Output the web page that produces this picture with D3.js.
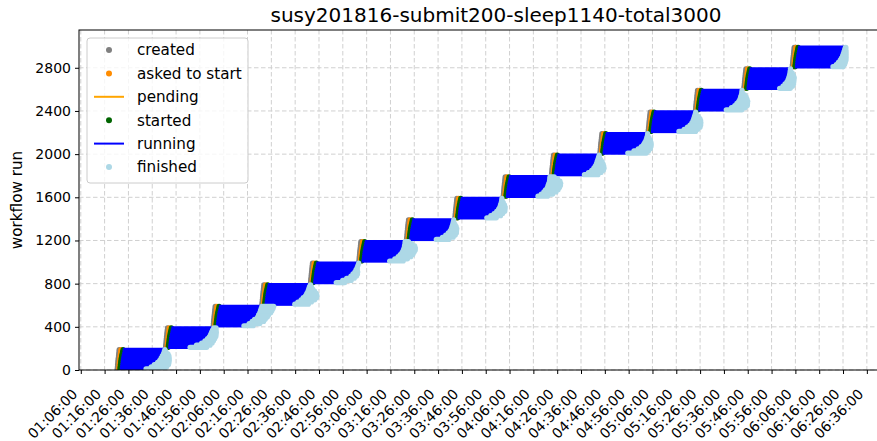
<!DOCTYPE html>
<html>
<head>
<meta charset="utf-8">
<script src="https://cdn.jsdelivr.net/npm/d3@7"></script>
<style>
  body { margin: 0; background: #fff; }
  svg { display: block; font-family: "DejaVu Sans", sans-serif; }
</style>
</head>
<body>
<svg id="chart" width="877" height="441"></svg>
<script>
// one batch = 200 workflow runs, created every ~20 minutes
const batchCreated = [
  "01:21:17", "01:41:34", "02:01:35", "02:22:02", "02:42:26",
  "03:02:45", "03:22:44", "03:43:03", "04:03:20", "04:23:37",
  "04:43:56", "05:04:12", "05:24:04", "05:44:23", "06:04:40"
];
const runsPerBatch = 200;
const binSize = 20; // runs are grouped in bins of 20 inside a batch

// per bin (bin 0 = lowest run number of the batch), seconds
const createdLagSec = [0, 5, 10, 15, 20, 26, 32, 38, 44, 50];
const askedLagSec = [38, 38, 38, 38, 40, 40, 42, 42, 44, 44];
const startedLagSec = [68, 68, 70, 72, 74, 76, 80, 86, 92, 98];

// end of running, minutes after creation, per batch and bin
const runEndMin = [
  [12.1, 14.2, 15.4, 16.7, 17.5, 18.0, 18.4, 18.8, 19.0, 19.2],
  [10.3, 12.9, 15.0, 16.3, 17.3, 18.0, 18.4, 18.7, 19.0, 19.4],
  [12.9, 15.0, 16.2, 17.1, 18.3, 18.6, 19.0, 19.2, 19.4, 19.6],
  [13.8, 15.0, 16.3, 17.1, 18.0, 18.4, 18.8, 19.0, 19.2, 19.5],
  [10.8, 13.4, 15.0, 16.7, 17.5, 18.2, 18.6, 19.0, 19.2, 19.4],
  [12.9, 15.0, 16.3, 17.1, 17.8, 18.2, 18.4, 18.5, 18.6, 18.6],
  [12.5, 15.0, 16.3, 17.3, 18.0, 18.4, 18.6, 18.8, 18.9, 19.0],
  [13.4, 15.0, 16.3, 17.3, 18.0, 18.4, 18.6, 18.8, 18.9, 18.9],
  [14.6, 15.9, 16.9, 17.5, 18.2, 18.4, 18.6, 18.8, 18.8, 18.8],
  [13.8, 15.4, 16.7, 17.5, 18.0, 18.4, 18.6, 18.8, 19.0, 19.2],
  [11.7, 14.2, 15.9, 17.1, 18.0, 18.4, 18.8, 19.0, 19.2, 19.2],
  [12.9, 15.0, 16.3, 17.3, 18.0, 18.4, 18.6, 18.8, 19.0, 19.1],
  [12.9, 15.0, 16.3, 17.1, 17.8, 18.2, 18.4, 18.6, 18.7, 18.7],
  [15.0, 16.3, 17.1, 17.8, 18.2, 18.4, 18.6, 18.7, 18.7, 18.7],
  [17.1, 18.4, 19.2, 19.9, 20.3, 20.7, 20.9, 21.1, 21.3, 21.5]
];
// latest finished marker, minutes after creation, per batch and bin
const finishedMaxMin = [
  [19.9, 20.7, 21.4, 21.5, 21.5, 21.4, 21.2, 20.7, 19.7, 19.1],
  [17.3, 18.6, 19.4, 19.9, 20.3, 20.7, 20.7, 20.7, 20.5, 20.4],
  [16.8, 19.5, 21.0, 21.6, 22.4, 22.8, 23.6, 24.0, 24.4, 24.6],
  [19.5, 20.7, 22.0, 22.7, 22.8, 22.4, 21.6, 20.7, 20.1, 19.6],
  [14.4, 17.0, 18.2, 19.1, 19.4, 19.4, 19.1, 19.0, 19.1, 19.1],
  [18.6, 20.3, 21.6, 22.4, 22.8, 23.2, 23.2, 22.8, 21.4, 20.0],
  [17.8, 19.5, 20.3, 20.7, 20.7, 20.7, 20.3, 19.7, 19.1, 18.9],
  [17.4, 19.1, 19.9, 20.7, 20.7, 20.7, 20.3, 19.7, 19.1, 18.9],
  [18.6, 20.7, 22.0, 22.8, 23.3, 23.6, 23.6, 23.2, 22.1, 20.6],
  [19.5, 20.7, 21.6, 21.8, 21.6, 21.2, 20.7, 20.0, 19.4, 19.2],
  [19.5, 20.3, 21.0, 21.2, 21.2, 21.0, 20.7, 20.0, 19.4, 19.2],
  [19.9, 20.7, 21.6, 21.8, 21.8, 21.6, 21.2, 20.4, 19.4, 19.1],
  [19.5, 20.7, 21.6, 21.6, 21.6, 21.2, 20.7, 20.0, 18.9, 18.7],
  [19.5, 20.3, 20.7, 20.7, 20.7, 20.7, 20.3, 19.7, 18.9, 18.7],
  [21.3, 21.9, 22.1, 22.3, 22.3, 22.2, 22.1, 22.0, 21.8, 21.7]
];

const xTickLabels = [
  "01:06:00", "01:16:00", "01:26:00", "01:36:00", "01:46:00", "01:56:00",
  "02:06:00", "02:16:00", "02:26:00", "02:36:00", "02:46:00", "02:56:00",
  "03:06:00", "03:16:00", "03:26:00", "03:36:00", "03:46:00", "03:56:00",
  "04:06:00", "04:16:00", "04:26:00", "04:36:00", "04:46:00", "04:56:00",
  "05:06:00", "05:16:00", "05:26:00", "05:36:00", "05:46:00", "05:56:00",
  "06:06:00", "06:16:00", "06:26:00", "06:36:00"
];
const yTicks = [0, 400, 800, 1200, 1600, 2000, 2400, 2800];
const xLimits = ["01:05:15", "06:43:12"];
const yLimits = [0, 3150];

const legendItems = [
  { label: "created", type: "dot", color: "gray" },
  { label: "asked to start", type: "dot", color: "darkorange" },
  { label: "pending", type: "line", color: "orange" },
  { label: "started", type: "dot", color: "darkgreen" },
  { label: "running", type: "line", color: "blue" },
  { label: "finished", type: "dot", color: "lightblue" }
];

const parseTime = d3.timeParse("%H:%M:%S");
const addSec = (t, s) => new Date(t.getTime() + s * 1000);

// Build binned rows
const rows = [];
batchCreated.forEach((c, i) => {
  const t0 = parseTime(c);
  createdLagSec.forEach((lag, k) => {
    const created = addSec(t0, lag);
    rows.push({
      run: i * runsPerBatch + k * binSize + binSize / 2,
      created,
      asked: addSec(created, askedLagSec[k]),
      started: addSec(created, startedLagSec[k]),
      runEnd: addSec(created, runEndMin[i][k] * 60),
      finished: addSec(created, Math.max(runEndMin[i][k], finishedMaxMin[i][k]) * 60)
    });
  });
});

const margin = { left: 79, right: 884, top: 30, bottom: 370 };
const tickFont = "14px";
const labelFont = "15.2px";
const svg = d3.select("#chart");

const x = d3.scaleTime()
  .domain(xLimits.map(parseTime))
  .range([margin.left, margin.right]);
const y = d3.scaleLinear()
  .domain(yLimits)
  .range([margin.bottom, margin.top]);

const markerR = 2.6;
const binPx = y(0) - y(binSize);

svg.append("clipPath").attr("id", "plot-clip")
  .append("rect")
  .attr("x", margin.left).attr("y", margin.top)
  .attr("width", margin.right - margin.left)
  .attr("height", margin.bottom - margin.top);

// Grid lines
const grid = svg.append("g").attr("class", "grid")
  .attr("stroke", "#d0d0d0").attr("stroke-width", 1)
  .attr("stroke-dasharray", "4.5,2.5");
grid.selectAll(".vx").data(xTickLabels).enter().append("line")
  .attr("x1", d => x(parseTime(d))).attr("x2", d => x(parseTime(d)))
  .attr("y1", margin.top).attr("y2", margin.bottom);
grid.selectAll(".hy").data(yTicks).enter().append("line")
  .attr("x1", margin.left).attr("x2", margin.right)
  .attr("y1", d => y(d)).attr("y2", d => y(d));

const plot = svg.append("g").attr("clip-path", "url(#plot-clip)");

// created / asked markers
plot.append("g").selectAll("circle").data(rows).enter().append("circle")
  .attr("cx", d => x(d.created)).attr("cy", d => y(d.run))
  .attr("r", markerR).attr("fill", "gray");
plot.append("g").selectAll("circle").data(rows).enter().append("circle")
  .attr("cx", d => x(d.asked)).attr("cy", d => y(d.run))
  .attr("r", markerR).attr("fill", "darkorange");

// pending
plot.append("g").selectAll("line").data(rows).enter().append("line")
  .attr("x1", d => x(d.asked)).attr("x2", d => x(d.started))
  .attr("y1", d => y(d.run)).attr("y2", d => y(d.run))
  .attr("stroke", "orange").attr("stroke-width", binPx + 1);

// started
plot.append("g").selectAll("circle").data(rows).enter().append("circle")
  .attr("cx", d => x(d.started)).attr("cy", d => y(d.run))
  .attr("r", markerR).attr("fill", "darkgreen");

// running
plot.append("g").selectAll("line").data(rows).enter().append("line")
  .attr("x1", d => x(d.started)).attr("x2", d => x(d.runEnd))
  .attr("y1", d => y(d.run)).attr("y2", d => y(d.run))
  .attr("stroke", "blue").attr("stroke-width", binPx + 1.2);

// finished (spread of finished markers in each bin)
plot.append("g").selectAll("line").data(rows).enter().append("line")
  .attr("x1", d => x(d.runEnd)).attr("x2", d => x(d.finished))
  .attr("y1", d => y(d.run)).attr("y2", d => y(d.run))
  .attr("stroke", "lightblue").attr("stroke-width", markerR * 2)
  .attr("stroke-linecap", "round");

// Frame
svg.append("rect")
  .attr("x", margin.left).attr("y", margin.top)
  .attr("width", margin.right - margin.left)
  .attr("height", margin.bottom - margin.top)
  .attr("fill", "none").attr("stroke", "#000").attr("stroke-width", 1);

// X axis
const xAxis = svg.append("g")
  .attr("transform", `translate(0,${margin.bottom})`)
  .call(d3.axisBottom(x)
    .tickValues(xTickLabels.map(parseTime))
    .tickFormat(d3.timeFormat("%H:%M:%S"))
    .tickSize(4));
xAxis.select(".domain").remove();
xAxis.selectAll("line").attr("stroke", "#000");
xAxis.selectAll("text")
  .attr("x", 0).attr("y", 0).attr("dy", 0)
  .attr("text-anchor", "end")
  .attr("transform", "translate(-3,25) rotate(-45)")
  .style("font-size", tickFont)
  .style("font-family", "DejaVu Sans")
  .attr("fill", "#000");

// Y axis
const yAxis = svg.append("g")
  .attr("transform", `translate(${margin.left},0)`)
  .call(d3.axisLeft(y).tickValues(yTicks).tickFormat(d3.format("d"))
    .tickSize(4).tickPadding(4));
yAxis.select(".domain").remove();
yAxis.selectAll("line").attr("stroke", "#000");
yAxis.selectAll("text")
  .style("font-size", tickFont)
  .style("font-family", "DejaVu Sans")
  .attr("fill", "#000");

svg.append("text")
  .attr("transform", "translate(22,200) rotate(-90)")
  .attr("text-anchor", "middle")
  .style("font-size", labelFont)
  .text("workflow run");

// Title
svg.append("text")
  .attr("x", 496).attr("y", 22)
  .attr("text-anchor", "middle")
  .style("font-size", "20px")
  .text("susy201816-submit200-sleep1140-total3000");

// Legend
const legend = svg.append("g");
legend.append("rect")
  .attr("x", 87).attr("y", 38).attr("width", 161).attr("height", 145)
  .attr("rx", 3).attr("fill", "#fff").attr("fill-opacity", 0.8)
  .attr("stroke", "#cccccc");
const entry = legend.selectAll(".entry").data(legendItems).enter().append("g")
  .attr("transform", (d, i) => `translate(0,${50 + i * 23.4})`);
entry.filter(d => d.type === "dot").append("circle")
  .attr("cx", 109).attr("cy", 0).attr("r", 3).attr("fill", d => d.color);
entry.filter(d => d.type === "line").append("line")
  .attr("x1", 94).attr("x2", 124).attr("y1", 0).attr("y2", 0)
  .attr("stroke", d => d.color).attr("stroke-width", 2);
entry.append("text")
  .attr("x", 137).attr("y", 0).attr("dy", "0.35em")
  .style("font-size", labelFont)
  .text(d => d.label);
</script>
</body>
</html>
